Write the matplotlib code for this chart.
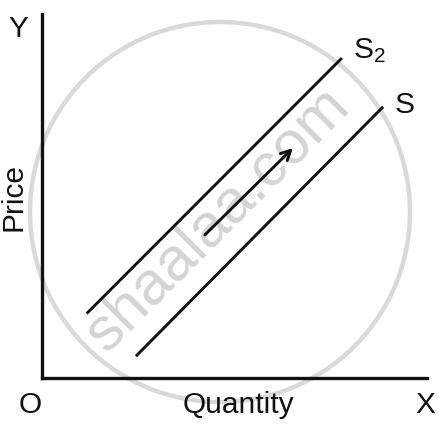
import matplotlib
matplotlib.use("Agg")
import matplotlib.pyplot as plt
from matplotlib.patches import Ellipse

plt.rcParams['font.family'] = ['Liberation Sans', 'DejaVu Sans']
plt.rcParams['mathtext.fontset'] = 'custom'
plt.rcParams['mathtext.rm'] = 'Liberation Sans'
plt.rcParams['mathtext.it'] = 'Liberation Sans'

# Curve data (arbitrary units)
s2_x = [1.16, 7.79]
s2_y = [1.77, 8.79]
s_x = [2.44, 8.86]
s_y = [0.60, 7.45]
arrow_start = (4.23, 3.93)
arrow_end = (6.52, 6.32)

W, H = 438, 430
fig = plt.figure(figsize=(W / 100, H / 100), dpi=100)
fig.patch.set_facecolor('white')
ax = fig.add_axes([42 / W, 52 / H, 385 / W, 364 / H])
ax.set_xlim(0, 10)
ax.set_ylim(0, 10)
ax.set_facecolor('none')
for sp in ['top', 'right']:
    ax.spines[sp].set_visible(False)
for sp in ['left', 'bottom']:
    ax.spines[sp].set_linewidth(2.4)
    ax.spines[sp].set_color('#111111')
    ax.spines[sp].set_capstyle('projecting')
    ax.spines[sp].set_zorder(4)
ax.set_xticks([])
ax.set_yticks([])

# watermark (behind everything)
circ = Ellipse((220 / W, 1 - 212 / H), 380 / W, 380 / H, transform=fig.transFigure,
               fill=False, edgecolor='#d9d9d9', linewidth=3.2, zorder=0, clip_on=False)
ax.add_patch(circ)
ax.text(213 / W, 1 - 215 / H, 'shaalaa.com', transform=fig.transFigure, rotation=45,
        rotation_mode='anchor', ha='center', va='center_baseline', fontsize=44,
        color='#d4d4d4', zorder=0, clip_on=False)

ax.plot(s2_x, s2_y, color='#111111', lw=2.1, solid_capstyle='butt', zorder=3)
ax.plot(s_x, s_y, color='#111111', lw=2.1, solid_capstyle='butt', zorder=3)
ax.annotate('', xy=arrow_end, xytext=arrow_start,
            arrowprops=dict(arrowstyle='->,head_length=0.7,head_width=0.35',
                            color='#111111', lw=2.1, shrinkA=0, shrinkB=0), zorder=3)

fs = 21.5
kw = dict(fontsize=fs, color='#111111', clip_on=False, va='baseline', zorder=5)
ax.text(8.08, 8.79, r'S$_\mathrm{2}$', ha='left', **kw)
ax.text(9.17, 7.28, 'S', ha='left', **kw)
ax.text(-0.88, 9.37, 'Y', ha='left', **kw)
ax.text(-0.62, -0.96, 'O', ha='left', **kw)
ax.text(9.69, -0.96, 'X', ha='left', **kw)
ax.text(5.10, -0.96, 'Quantity', ha='center', **kw)
ax.text(-0.52, 4.96, 'Price', rotation=90, rotation_mode='anchor', ha='center', **kw)

fig.savefig('out.png', dpi=100)
